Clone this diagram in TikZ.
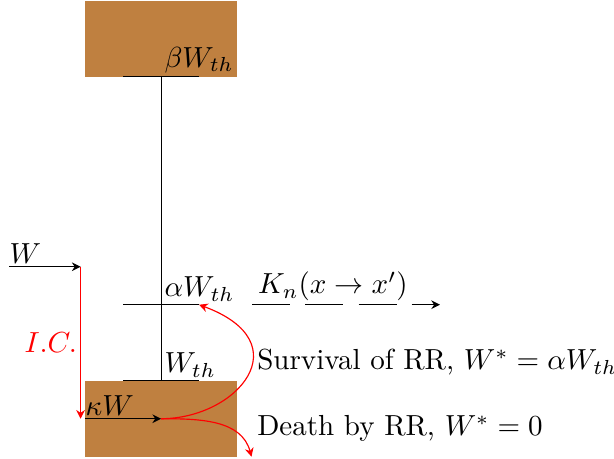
\documentclass[tikz,border=0pt]{standalone}
\usetikzlibrary{positioning,arrows.meta,calc}

\begin{document}
\begin{tikzpicture}[
  x=0.92cm, y=0.92cm,
  tank/.style={fill=brown, draw=none, inner sep=0pt, minimum width=1.84cm, minimum height=0.92cm},
  lbl/.style={inner sep=1pt},
  arr/.style={-{Stealth[length=3pt, width=3pt]}},
  rarr/.style={-{Stealth[length=3pt, width=3pt]}, red},
  kernarr/.style={-{Stealth[length=3pt, width=3pt]}, dash pattern=on 13.1pt off 5.2pt}
]
\useasboundingbox (-2.12,-1.03) rectangle (5.96,5.01);

%% ---------- reservoirs and axis ----------
\node[tank] (top) at (0,4.5) {};
\node[tank] (bot) at (0,-0.5) {};

\draw (top.south) -- (bot.north);

\coordinate (bL) at (-0.5,4);  \coordinate (bR) at (0.5,4);
\coordinate (aL) at (-0.5,1);  \coordinate (aR) at (0.5,1);
\coordinate (tL) at (-0.5,0);  \coordinate (tR) at (0.5,0);
\draw (bL) -- (bR);
\draw (aL) -- (aR);
\draw (tL) -- (tR);

\node[lbl, anchor=south west] (blab) at (0,4) {$\beta W_{th}$};
\node[lbl, anchor=south west] (alab) at (0,1) {$\alpha W_{th}$};
\node[lbl, anchor=south west] (tlab) at (0,0) {$W_{th}$};

%% ---------- initial condition ----------
\coordinate (w0) at (-2,1.5);
\coordinate (w1) at (-1.06,1.5);
\coordinate (ic) at (-1.06,-0.5);
\draw[arr] (w0) node[lbl, inner xsep=0pt, anchor=south west] (wlab) {$W$} -- (w1);
\draw[rarr] (w1) -- node[lbl, left] (iclab) {$I.C.$} (ic);

\coordinate (k0) at (-1,-0.5);
\coordinate (k1) at (0,-0.5);
\draw[arr] (k0) node[lbl, inner xsep=0pt, anchor=south west] (klab) {$\kappa W$} -- (k1);

%% ---------- outcomes ----------
\coordinate (dend) at (1.19,-1);
\draw[rarr] (k1) .. controls (1.0,-0.5) and (1.85,0.5) .. (aR);
\draw[rarr] (k1) to[out=0, in=105] (dend);

\node[lbl, anchor=west] (surv) at (1.22,0.24) {Survival of RR, $W^*=\alpha W_{th}$};
\node[lbl, anchor=west] (death) at (1.22,-0.63) {Death by RR, $W^*=0$};

%% ---------- kernel ----------
\coordinate (kn0) at (1.2,1);
\coordinate (kn1) at (3.67,1);
\draw[kernarr] (kn0) -- node[lbl, above, pos=0.43] (knlab) {$K_n(x\rightarrow x')$} (kn1);

\end{tikzpicture}
\end{document}
